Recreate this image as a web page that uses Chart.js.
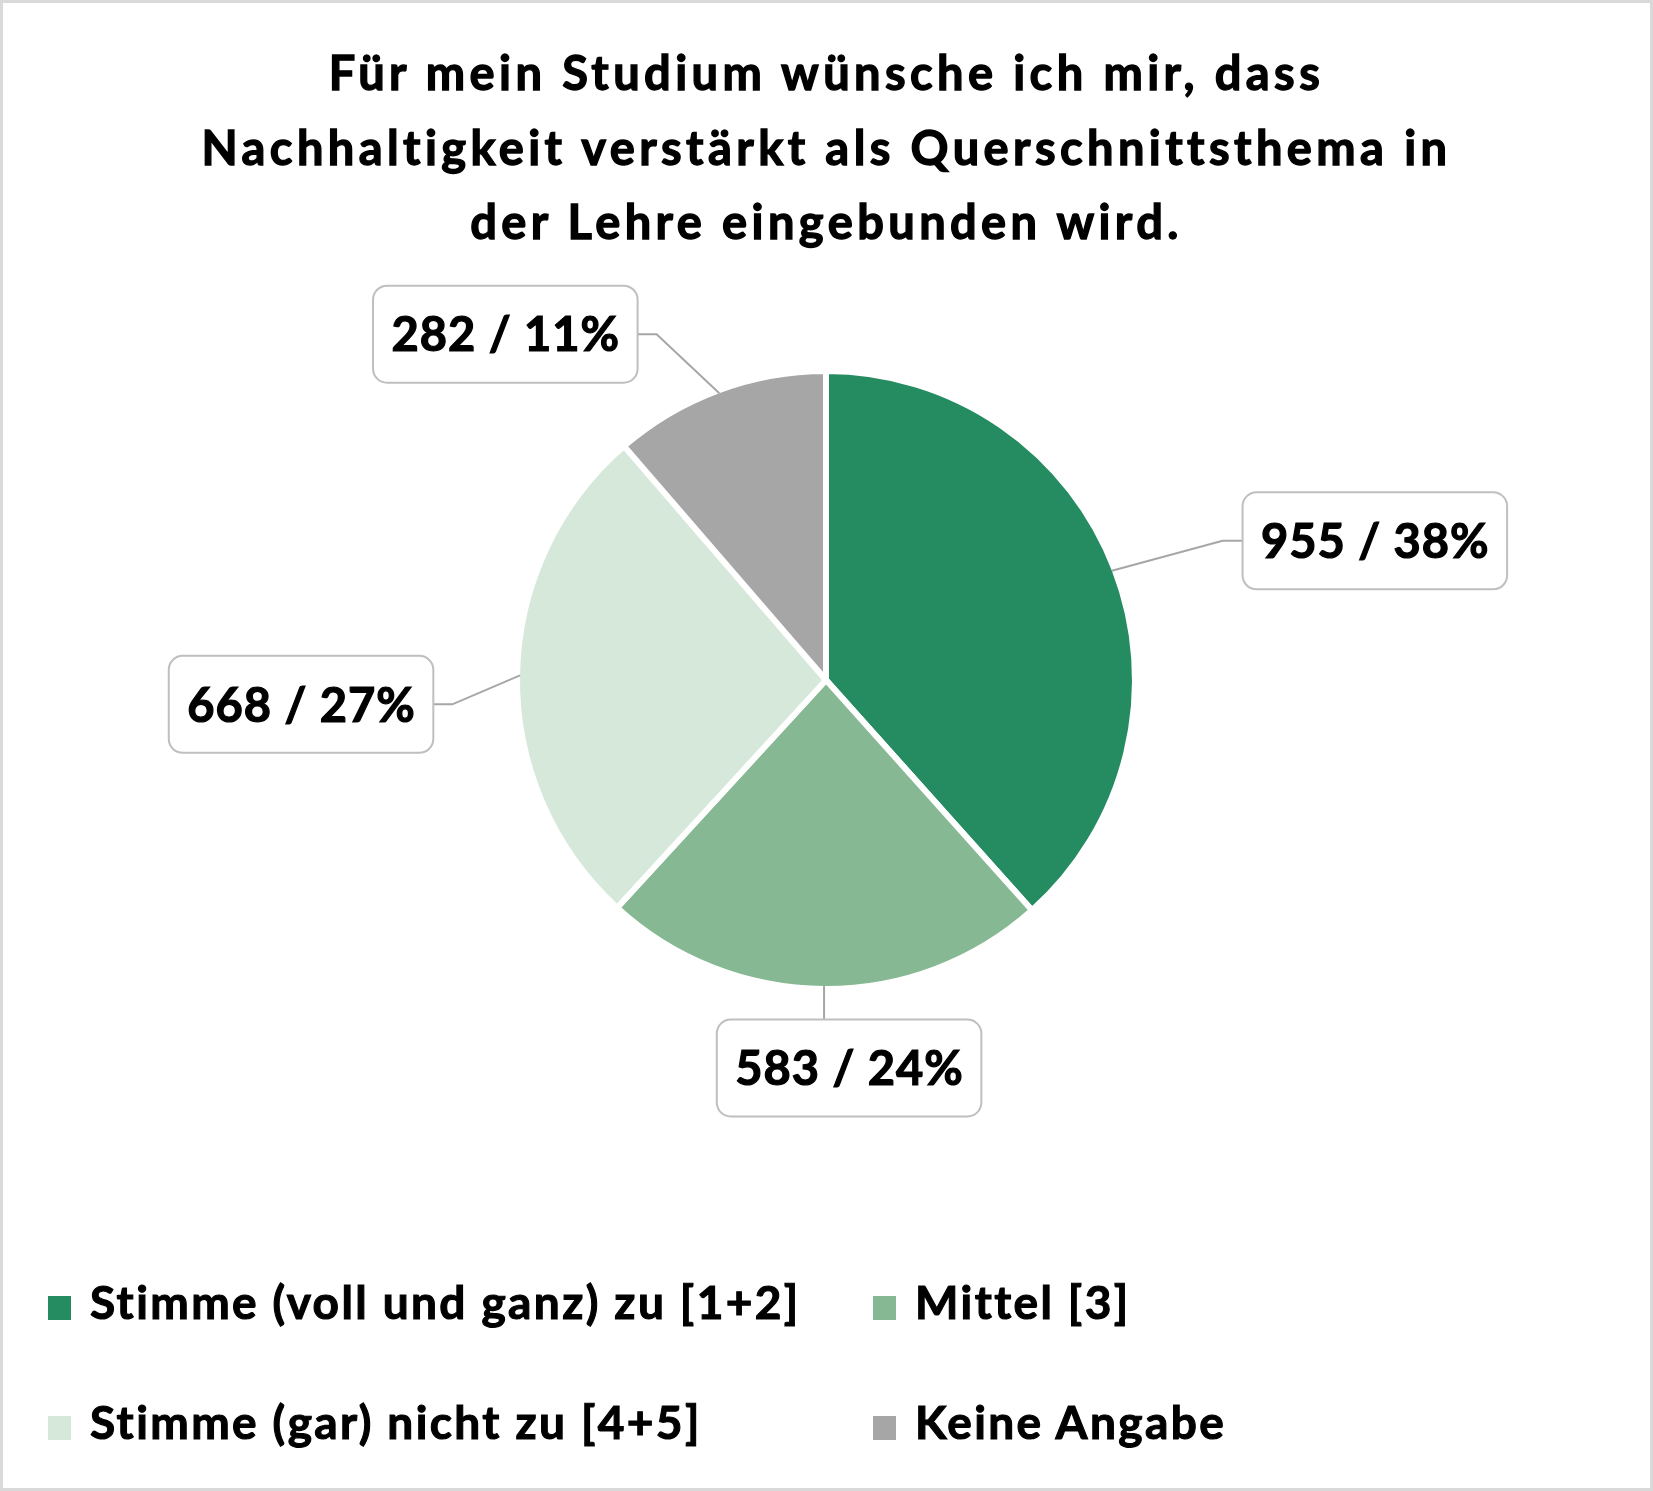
<!DOCTYPE html>
<html lang="de">
<head>
<meta charset="utf-8">
<title>Nachhaltigkeit als Querschnittsthema</title>
<script src="https://cdn.jsdelivr.net/npm/chart.js@4.4.1/dist/chart.umd.min.js"></script>
<style>
    html, body {
        margin: 0;
        padding: 0;
        background: #ffffff;
    }
    .frame {
        position: relative;
        width: 1653px;
        height: 1491px;
        box-sizing: border-box;
        border: 3px solid #d9d9d9;
        overflow: hidden;
        font-family: Lato, "Open Sans", sans-serif;
        color: #000;
    }
    #pieChart {
        position: absolute;
        left: -3px;
        top: -3px;
    }
    .title {
        position: absolute;
        left: 0;
        width: 1647px;
        top: 32px;
        text-align: center;
        font-size: 47px;
        font-weight: 700;
        letter-spacing: 4.4px;
        line-height: 74.5px;
        -webkit-text-stroke: 1.3px #000;
    }
    .legend {
        position: absolute;
        left: 0;
        top: 1276px;
        width: 1647px;
    }
    .legend-item {
        position: absolute;
        display: flex;
        align-items: flex-start;
        font-size: 46px;
        font-weight: 700;
        letter-spacing: 2.4px;
        line-height: 46px;
        white-space: nowrap;
        -webkit-text-stroke: 1.1px #000;
    }
    .legend-item .swatch {
        width: 23px;
        height: 24px;
        margin-top: 17px;
        margin-right: 19px;
    }
</style>
</head>
<body>
<div class="frame">
    <canvas id="pieChart" width="1653" height="1491"></canvas>
    <div class="title" id="title"></div>
    <div class="legend" id="legend"></div>
</div>

<script>
// data
const categories = ['Stimme (voll und ganz) zu [1+2]', 'Mittel [3]', 'Stimme (gar) nicht zu [4+5]', 'Keine Angabe'];
const counts = [955, 583, 668, 282];
const percentages = [38, 24, 27, 11];
const titleLines = ['Für mein Studium wünsche ich mir, dass', 'Nachhaltigkeit verstärkt als Querschnittsthema in', 'der Lehre eingebunden wird.'];

// styling
const sliceColors = ['#258b61', '#86b893', '#d5e8d9', '#a6a6a6'];
// where each label box sits relative to its slice's edge point
const labelOffsets = [
    { dx: 263, dy: -30, leader: 'left' },
    { dx: 25, dy: 82, leader: 'top' },
    { dx: -219, dy: 29, leader: 'right' },
    { dx: -214, dy: -59, leader: 'right' }
];

document.getElementById('title').innerHTML = titleLines.join('<br>');

// legend: two columns, two rows
const legendEl = document.getElementById('legend');
const legendCols = [45, 870];
categories.forEach((cat, i) => {
    const item = document.createElement('div');
    item.className = 'legend-item';
    item.style.left = legendCols[i % 2] + 'px';
    item.style.top = (Math.floor(i / 2) * 120) + 'px';
    item.innerHTML = `<span class="swatch" style="background:${sliceColors[i]}"></span><span>${cat}</span>`;
    legendEl.appendChild(item);
});

function roundRect(ctx, x, y, w, h, r) {
    ctx.beginPath();
    ctx.moveTo(x + r, y);
    ctx.lineTo(x + w - r, y);
    ctx.arcTo(x + w, y, x + w, y + r, r);
    ctx.lineTo(x + w, y + h - r);
    ctx.arcTo(x + w, y + h, x + w - r, y + h, r);
    ctx.lineTo(x + r, y + h);
    ctx.arcTo(x, y + h, x, y + h - r, r);
    ctx.lineTo(x, y + r);
    ctx.arcTo(x, y, x + r, y, r);
    ctx.closePath();
}

const calloutLabels = {
    id: 'calloutLabels',
    afterDatasetsDraw(chart) {
        const ctx = chart.ctx;
        const meta = chart.getDatasetMeta(0);
        ctx.save();
        ctx.font = 'bold 47px Lato, "Open Sans", sans-serif';
        ctx.letterSpacing = '1px';
        ctx.textAlign = 'center';
        ctx.textBaseline = 'middle';
        meta.data.forEach((arc, i) => {
            const p = arc.getProps(['x', 'y', 'startAngle', 'endAngle', 'outerRadius'], true);
            const mid = (p.startAngle + p.endAngle) / 2;
            const r = p.outerRadius - 3;
            const ax = p.x + Math.cos(mid) * r;
            const ay = p.y + Math.sin(mid) * r;
            const off = labelOffsets[i];
            const cx = ax + off.dx;
            const cy = ay + off.dy;
            const text = `${counts[i]} / ${percentages[i]}%`;
            const w = ctx.measureText(text).width + 36;
            const h = 97;
            const bx = cx - w / 2;
            const by = cy - h / 2;

            // leader line
            ctx.strokeStyle = '#a6a6a6';
            ctx.lineWidth = 2;
            ctx.beginPath();
            ctx.moveTo(ax, ay);
            if (off.leader === 'left') {
                ctx.lineTo(bx - 20, cy);
                ctx.lineTo(bx, cy);
            } else if (off.leader === 'right') {
                ctx.lineTo(bx + w + 19, cy);
                ctx.lineTo(bx + w, cy);
            } else {
                ctx.lineTo(ax, by);
            }
            ctx.stroke();

            // box
            roundRect(ctx, bx, by, w, h, 14);
            ctx.fillStyle = '#ffffff';
            ctx.fill();
            ctx.strokeStyle = '#bfbfbf';
            ctx.lineWidth = 2;
            ctx.stroke();

            // heavier text: fill plus a thin stroke of the same colour
            ctx.fillStyle = '#000000';
            ctx.strokeStyle = '#000000';
            ctx.lineWidth = 1.2;
            ctx.fillText(text, cx + 0.5, cy + 2);
            ctx.strokeText(text, cx + 0.5, cy + 2);
        });
        ctx.restore();
    }
};

const ctx = document.getElementById('pieChart').getContext('2d');
const pieChart = new Chart(ctx, {
    type: 'pie',
    data: {
        labels: categories,
        datasets: [{
            data: counts,
            backgroundColor: sliceColors,
            borderColor: '#ffffff',
            borderWidth: 6
        }]
    },
    options: {
        responsive: false,
        animation: false,
        layout: {
            padding: { left: 514, right: 515, top: 368, bottom: 499 }
        },
        plugins: {
            legend: { display: false },
            tooltip: { enabled: false },
            title: { display: false }
        }
    },
    plugins: [calloutLabels]
});
</script>
</body>
</html>
